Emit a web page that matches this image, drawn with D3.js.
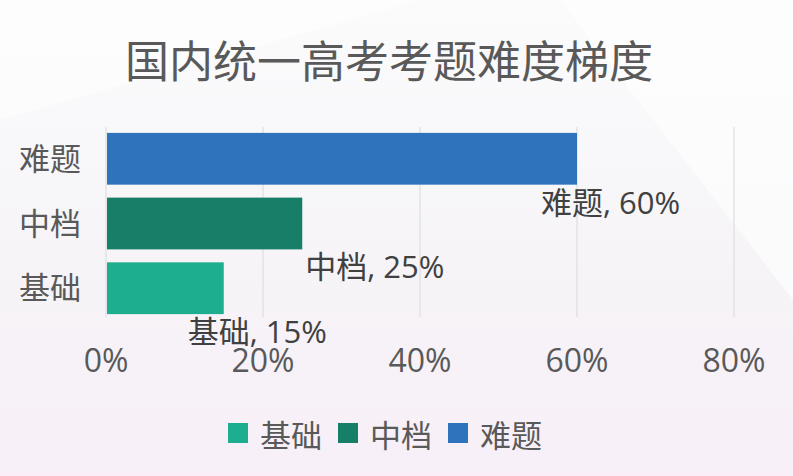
<!DOCTYPE html>
<html>
<head>
<meta charset="utf-8">
<script src="https://cdn.jsdelivr.net/npm/d3@7"></script>
<style>
  html, body { margin: 0; padding: 0; }
  body { width: 793px; height: 476px; overflow: hidden; }
  svg text { font-family: "Open Sans", "Noto Sans CJK SC", sans-serif; }
</style>
</head>
<body>
<div id="chart"></div>
<script>
const title = "国内统一高考考题难度梯度";
const categories = ["难题", "中档", "基础"];
const values = [60, 25, 15];
const xTicks = [0, 20, 40, 60, 80];
const legendOrder = ["基础", "中档", "难题"];

const colors = { "难题": "#2e74bd", "中档": "#177f68", "基础": "#1dae8f" };

const W = 793, H = 476;
const svg = d3.select("#chart").append("svg").attr("width", W).attr("height", H);

// background
const defs = svg.append("defs");
const grad = defs.append("linearGradient").attr("id", "bg").attr("x1", 0).attr("y1", 0).attr("x2", 0).attr("y2", 1);
grad.append("stop").attr("offset", "0%").attr("stop-color", "#fbfbfc");
grad.append("stop").attr("offset", "55%").attr("stop-color", "#f6f4f7");
grad.append("stop").attr("offset", "100%").attr("stop-color", "#f8eff8");
svg.append("rect").attr("width", W).attr("height", H).attr("fill", "url(#bg)");
svg.append("path").attr("d", "M560,0 L793,0 L793,300 Z").attr("fill", "#ffffff").attr("opacity", 0.6);
svg.append("path").attr("d", "M0,0 L420,0 L0,120 Z").attr("fill", "#ffffff").attr("opacity", 0.5);

svg.append("text")
  .attr("x", 389).attr("y", 78)
  .attr("text-anchor", "middle")
  .attr("font-size", 44)
  .attr("fill", "#595959")
  .text(title);

const x = d3.scaleLinear().domain([0, 80]).range([106, 734]);
const y = d3.scaleBand().domain(categories).range([129, 318]).paddingInner(0.2).paddingOuter(0.06);

// grid
svg.append("g").selectAll("line").data(xTicks).join("line")
  .attr("x1", d => x(d)).attr("x2", d => x(d))
  .attr("y1", 127).attr("y2", 317)
  .attr("stroke", "#d9d9d9").attr("stroke-width", 1);

// bars
svg.append("g").selectAll("rect").data(categories).join("rect")
  .attr("x", x(0) + 1)
  .attr("y", d => y(d))
  .attr("width", (d, i) => x(values[i]) - x(0) - 1)
  .attr("height", y.bandwidth())
  .attr("fill", d => colors[d]);

// category labels
svg.append("g").selectAll("text").data(categories).join("text")
  .attr("x", 81)
  .attr("y", d => y(d) + y.bandwidth() / 2 + 11)
  .attr("text-anchor", "end")
  .attr("font-size", 31)
  .attr("fill", "#595959")
  .text(d => d);

// x tick labels
svg.append("g").selectAll("text").data(xTicks).join("text")
  .attr("x", d => x(d))
  .attr("y", 372)
  .attr("text-anchor", "middle")
  .attr("font-size", 32)
  .attr("fill", "#595959")
  .text(d => d + "%");

// data labels (sit under the bar end, like the original)
const labelDx = [-36, 3, -36];
svg.append("g").selectAll("text").data(categories).join("text")
  .attr("x", (d, i) => x(values[i]) + labelDx[i])
  .attr("y", d => y(d) + y.bandwidth() + 29)
  .attr("font-size", 31)
  .attr("fill", "#404040")
  .text((d, i) => d + ", " + values[i] + "%");

// legend
const lg = svg.append("g");
const legendX = [228, 338, 448];
legendOrder.forEach((c, i) => {
  lg.append("rect").attr("x", legendX[i]).attr("y", 423).attr("width", 20).attr("height", 20).attr("fill", colors[c]);
  lg.append("text").attr("x", legendX[i] + 32).attr("y", 447)
    .attr("font-size", 31).attr("fill", "#595959").text(c);
});
</script>
</body>
</html>
